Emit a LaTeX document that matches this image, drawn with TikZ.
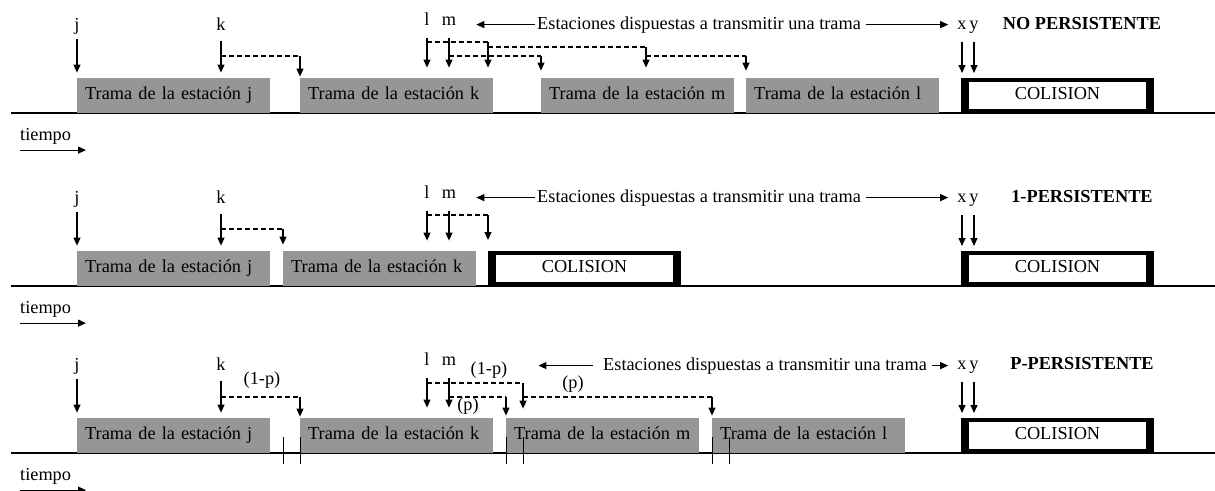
\documentclass[tikz,border=0pt]{standalone}
\usepackage{fontspec}
\setmainfont{Liberation Serif}
\usetikzlibrary{arrows.meta}
\definecolor{gristrama}{RGB}{150,150,150}

\begin{document}
\begin{tikzpicture}[x=1pt,y=-1pt,font={\fontsize{18.3}{22}\selectfont}]
    \tikzstyle{flecha}=[-{Triangle[length=8pt,width=7pt]},line width=1.1pt]
    \tikzstyle{espera}=[dash pattern=on 5pt off 3pt,line width=1.1pt]
    \tikzstyle{eje}=[line width=1.4pt]
    \tikzstyle{marca}=[line width=1pt]
    \tikzstyle{estacion}=[anchor=base,inner sep=0pt,text height=12pt,text depth=4pt]
    \tikzstyle{texto}=[anchor=base west,inner sep=0pt]
    \tikzstyle{prob}=[inner sep=0pt]
    \tikzstyle{trama}=[anchor=south west,fill=gristrama,minimum height=35pt,
        text width=177pt,inner xsep=8pt,align=left,text height=12.5pt,text depth=4pt]
    \tikzstyle{colision}=[anchor=south west,draw=black,line width=4pt,fill=white,
        outer sep=2pt,minimum width=189pt,minimum height=31pt,text height=12.5pt,text depth=4pt,
        path picture={\fill[black] (path picture bounding box.south west) rectangle ++(6pt,31pt);
                      \fill[black] (path picture bounding box.north east) rectangle ++(-6pt,-31pt);}]

    \useasboundingbox (0,0) rectangle (1215,490);

    % Common part of the three diagrams
    \foreach \p/\dy/\titulo in {1/0/{NO PERSISTENTE},2/173/{1-PERSISTENTE},3/340/{P-PERSISTENTE}}{
    \begin{scope}[shift={(0,\dy)}]
        % time axis
        \draw[eje] (11,113) -- (1215,113);
        \node[texto] (t\p) at (20,140) {tiempo};
        \draw[flecha] ([yshift=-6pt]t\p.south west) -- ++(66,0);
        \node[anchor=base,inner sep=0pt] (n\p) at (1082,29) {\bfseries \titulo};

        % stations
        \node[estacion] (j\p) at (77,30) {j};
        \node[estacion] (k\p) at (221,30) {k};
        \node[estacion] (l\p) at (427,25) {l};
        \node[estacion] (m\p) at (449,25) {m};
        \node[estacion] (x\p) at (962,29) {x};
        \node[estacion] (y\p) at (974,29) {y};

        % first frame and last collision
        \node[trama] (Tj\p) at (77,113) {Trama de la estación j};
        \node[colision] (C\p) at (961,113) {COLISION};

        \draw[flecha,shorten <=5pt,shorten >=5pt] (j\p.south) -- (j\p |- Tj\p.north);
        \draw[flecha,shorten <=7pt,shorten >=5pt] (k\p.south) -- (k\p |- Tj\p.north);
        \draw[flecha,shorten <=9pt,shorten >=10pt] (l\p.south) -- (l\p |- Tj\p.north);
        \draw[flecha,shorten <=9pt,shorten >=10pt] (m\p.south) -- (m\p |- Tj\p.north);
        \draw[flecha,shorten <=9pt,shorten >=5pt] (x\p.south) -- (x\p |- C\p.north);
        \draw[flecha,shorten <=9pt,shorten >=5pt] (y\p.south) -- (y\p |- C\p.north);
    \end{scope}
    }

    % NO PERSISTENTE
    \node[trama] (Tk1) at (300,113) {Trama de la estación k};
    \node[trama] (Tm1) at (541,113) {Trama de la estación m};
    \node[trama] (Tl1) at (746,113) {Trama de la estación l};
    \node[texto] (e1) at (537,29) {Estaciones dispuestas a transmitir una trama};
    \draw[flecha,shorten <=2pt,shorten >=20pt] (e1.west) -- (e1.west -| m1.east);
    \draw[flecha,shorten <=5pt,shorten >=9pt] (e1.east) -- (e1.east -| x1.west);

    \coordinate (k1a) at (300,56);
    \coordinate (l1a) at (488,42);
    \coordinate (l1b) at (646,47);
    \coordinate (l1c) at (746,56);
    \coordinate (m1a) at (541,56);
    \draw[espera] (k1 |- k1a) -- (k1a);
    \draw[flecha,shorten >=1pt] (k1a) -- (Tk1.north west);
    \draw[espera] (l1 |- l1a) -- (l1a);
    \draw[flecha,shorten >=10pt] (l1a) -- (l1a |- Tk1.north);
    \draw[espera] (l1a |- l1b) -- (l1b);
    \draw[flecha,shorten >=10pt] (l1b) -- (l1b |- Tm1.north);
    \draw[espera] (l1b |- l1c) -- (l1c);
    \draw[flecha,shorten >=7pt] (l1c) -- (Tl1.north west);
    \draw[espera] (m1 |- m1a) -- (m1a);
    \draw[flecha,shorten >=7pt] (m1a) -- (Tm1.north west);

    % 1-PERSISTENTE
    \begin{scope}[shift={(0,173)}]
        \node[trama] (Tk2) at (283,113) {Trama de la estación k};
        \node[colision] (D2) at (488,113) {COLISION};
        \node[texto] (e2) at (537,29) {Estaciones dispuestas a transmitir una trama};
        \draw[flecha,shorten <=2pt,shorten >=20pt] (e2.west) -- (e2.west -| m2.east);
        \draw[flecha,shorten <=5pt,shorten >=9pt] (e2.east) -- (e2.east -| x2.west);

        \coordinate (k2a) at (283,56);
        \coordinate (l2a) at (488,42);
        \draw[espera] (k2 |- k2a) -- (k2a);
        \draw[flecha,shorten >=6pt] (k2a) -- (Tk2.north west);
        \draw[espera] (l2 |- l2a) -- (l2a);
        \draw[flecha,shorten >=11pt] (l2a) -- (D2.north west);
    \end{scope}

    % P-PERSISTENTE
    \begin{scope}[shift={(0,340)}]
        \node[trama] (Tk3) at (300,113) {Trama de la estación k};
        \node[trama] (Tm3) at (506,113) {Trama de la estación m};
        \node[trama] (Tl3) at (712,113) {Trama de la estación l};
        \node[texto] (e3) at (603,30) {Estaciones dispuestas a transmitir una trama};

        \node[prob] (p3a) at (262,40) {(1-p)};
        \node[prob] (p3b) at (489,30) {(1-p)};
        \node[prob] (p3c) at (468,66.5) {(p)};
        \node[prob] (p3d) at (573,44) {(p)};

        \draw[flecha,shorten <=10pt,shorten >=31pt] (e3.west) -- (e3.west -| p3b.east);
        \draw[flecha,shorten <=5pt,shorten >=9pt] (e3.east) -- (e3.east -| x3.west);

        \coordinate (k3a) at (300,57);
        \coordinate (l3a) at (523,43);
        \coordinate (l3b) at (712,57);
        \coordinate (m3a) at (506,57);
        \draw[espera] (k3 |- k3a) -- (k3a);
        \draw[flecha,shorten >=1pt] (k3a) -- (Tk3.north west);
        \draw[espera] (l3 |- l3a) -- (l3a);
        \draw[flecha,shorten >=9pt] (l3a) -- (l3a |- Tk3.north);
        \draw[espera] (m3 |- m3a) -- (m3a);
        \draw[flecha,shorten >=2pt] (m3a) -- (Tm3.north west);
        \draw[espera] (l3a |- l3b) -- (l3b);
        \draw[flecha,shorten >=2pt] (l3b) -- (Tl3.north west);

        % slot marks
        \foreach \x in {283,300,506,523,712,729}
            \draw[marca] (\x,97) -- (\x,124);
    \end{scope}
\end{tikzpicture}
\end{document}
